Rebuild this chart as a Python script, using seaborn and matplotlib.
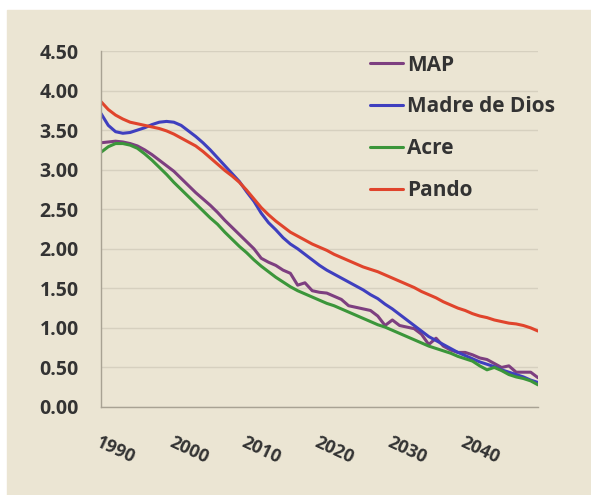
import numpy as np
import pandas as pd
import seaborn as sns
import matplotlib.pyplot as plt
from matplotlib.patches import Rectangle

years = list(range(1990, 2051))

map_vals = [3.34, 3.35, 3.36, 3.35, 3.33, 3.30, 3.25, 3.19, 3.12, 3.05,
            2.98, 2.89, 2.80, 2.71, 2.63, 2.55, 2.46, 2.36, 2.27, 2.18,
            2.09, 2.00, 1.88, 1.83, 1.79, 1.73, 1.69, 1.54, 1.57, 1.47,
            1.45, 1.44, 1.40, 1.36, 1.28, 1.26, 1.24, 1.22, 1.15, 1.03,
            1.10, 1.03, 1.01, 0.99, 0.92, 0.79, 0.87, 0.77, 0.72, 0.69,
            0.69, 0.66, 0.62, 0.60, 0.55, 0.50, 0.52, 0.44, 0.44, 0.44,
            0.37]
madre_vals = [3.71, 3.56, 3.48, 3.46, 3.47, 3.50, 3.53, 3.57, 3.60, 3.61,
              3.60, 3.56, 3.49, 3.42, 3.34, 3.25, 3.15, 3.05, 2.95, 2.85,
              2.72, 2.60, 2.45, 2.33, 2.24, 2.14, 2.06, 2.00, 1.93, 1.86,
              1.79, 1.73, 1.68, 1.63, 1.58, 1.53, 1.48, 1.42, 1.37, 1.30,
              1.24, 1.17, 1.10, 1.03, 0.96, 0.89, 0.84, 0.79, 0.74, 0.69,
              0.65, 0.61, 0.57, 0.54, 0.51, 0.47, 0.44, 0.41, 0.38, 0.34,
              0.31]
acre_vals = [3.22, 3.29, 3.33, 3.33, 3.31, 3.27, 3.20, 3.12, 3.03, 2.94,
             2.84, 2.75, 2.66, 2.57, 2.48, 2.39, 2.31, 2.21, 2.12, 2.03,
             1.95, 1.86, 1.78, 1.71, 1.64, 1.58, 1.52, 1.47, 1.43, 1.39,
             1.35, 1.31, 1.28, 1.24, 1.20, 1.16, 1.12, 1.08, 1.04, 1.01,
             0.97, 0.93, 0.89, 0.85, 0.81, 0.77, 0.74, 0.71, 0.68, 0.64,
             0.61, 0.58, 0.52, 0.47, 0.50, 0.46, 0.41, 0.38, 0.36, 0.33,
             0.28]
pando_vals = [3.86, 3.76, 3.69, 3.64, 3.60, 3.58, 3.56, 3.54, 3.52, 3.49,
              3.45, 3.40, 3.35, 3.30, 3.23, 3.15, 3.07, 2.99, 2.92, 2.84,
              2.74, 2.63, 2.52, 2.43, 2.35, 2.28, 2.21, 2.16, 2.11, 2.06,
              2.02, 1.98, 1.93, 1.89, 1.85, 1.81, 1.77, 1.74, 1.71, 1.67,
              1.63, 1.59, 1.55, 1.51, 1.46, 1.42, 1.38, 1.33, 1.29, 1.25,
              1.22, 1.18, 1.15, 1.13, 1.10, 1.08, 1.06, 1.05, 1.03, 1.00,
              0.96]

series = ['MAP', 'Madre de Dios', 'Acre', 'Pando']
tick_years = [1990, 2000, 2010, 2020, 2030, 2040, 2050]
tick_labels = ['1990', '2000', '2010', '2020', '2030', '2040', '']
y_ticks = [0, 0.5, 1, 1.5, 2, 2.5, 3, 3.5, 4, 4.5]

df = pd.DataFrame({'year': years, 'MAP': map_vals, 'Madre de Dios': madre_vals,
                   'Acre': acre_vals, 'Pando': pando_vals})
df = df.melt(id_vars='year', var_name='region', value_name='value')

bg = '#ebe5d3'
txt = '#333333'
palette = {'MAP': '#7d3f80', 'Madre de Dios': '#3f3fbf',
           'Acre': '#3b963a', 'Pando': '#e0442c'}

sns.set_style('white')
plt.rcParams['font.family'] = ['Open Sans', 'DejaVu Sans']
plt.rcParams['font.weight'] = 'bold'

fig = plt.figure(figsize=(5.91, 4.95), dpi=100, facecolor='white')
fig.patches.append(Rectangle((7 / 591, 0), 1, (495 - 10) / 495,
                             transform=fig.transFigure, color=bg, zorder=-1))
ax = fig.add_axes([101 / 591, (495 - 407) / 495, 437 / 591, 356 / 495])
ax.set_facecolor(bg)

sns.lineplot(data=df, x='year', y='value', hue='region', hue_order=series,
             palette=palette, linewidth=2.2, ax=ax)

ax.set_xlim(1990, 2050)
ax.set_ylim(0, 4.5)
ax.set_yticks(y_ticks)
ax.set_yticklabels([f'{v:.2f}' for v in y_ticks], fontsize=14,
                   fontweight='bold', color=txt)
ax.set_xticks(tick_years)
ax.set_xticklabels(tick_labels, fontsize=13, fontweight='bold', color=txt,
                   rotation=-25, ha='left', rotation_mode='anchor')
ax.tick_params(axis='y', length=5, color='#a8a293', pad=11)
ax.tick_params(axis='x', length=5, color='#a8a293', pad=14)
ax.grid(axis='y', color='#d6d0bf', linewidth=1)
ax.set_axisbelow(True)
for s in ['top', 'right']:
    ax.spines[s].set_visible(False)
for s in ['left', 'bottom']:
    ax.spines[s].set_color('#a8a293')
    ax.spines[s].set_linewidth(1)
ax.set_xlabel('')
ax.set_ylabel('')

leg = ax.legend(loc='upper left', bbox_to_anchor=(0.615, 0.99), frameon=False,
                fontsize=15, handlelength=1.6, handletextpad=0.2,
                labelspacing=1.0, borderpad=0, borderaxespad=0)
for t in leg.get_texts():
    t.set_color(txt)
    t.set_fontweight('bold')

fig.savefig('out.png', dpi=100, facecolor=fig.get_facecolor())
